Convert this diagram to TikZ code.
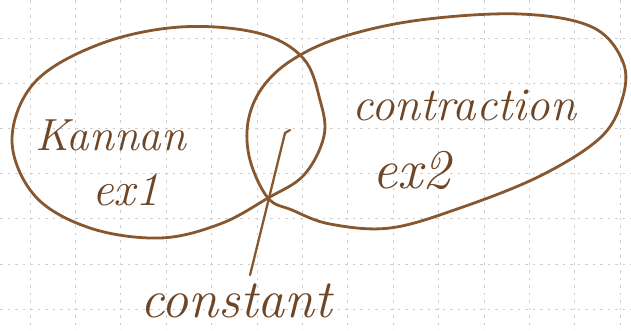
\documentclass[tikz,border=0pt]{standalone}
\usetikzlibrary{calc}
\definecolor{ink}{RGB}{135,88,48}
\definecolor{inkdark}{RGB}{110,70,38}
\definecolor{gridc}{RGB}{205,205,205}
\tikzset{
  loop/.style={draw=ink, line width=2.8pt, line cap=round, line join=round},
  hand/.style={text=inkdark, inner sep=0pt, anchor=base west, font=\itshape},
  papergrid/.style={draw=gridc, line width=0.8pt, dash pattern=on 2.5pt off 5pt},
  pointer/.style={draw=ink, line width=2.3pt, line cap=round}
}
\begin{document}
\begin{tikzpicture}[x=1pt,y=-1pt]
\useasboundingbox[fill=white] (0,0) rectangle (631,330);
% paper grid
\foreach \k in {0,...,13} {\draw[papergrid] (30+45.4*\k,0) -- (30+45.4*\k,330);}
\foreach \k in {0,...,6} {\draw[papergrid] (0,38+45.2*\k) -- (631,38+45.2*\k);}
% left loop
\draw[loop] plot[smooth cycle, tension=0.6] coordinates {
  (12,140) (35,82) (100,44) (180,27) (258,33) (303,58) (320,100)
  (324,136) (304,175) (268,198) (220,224) (160,238) (90,228) (35,196)};
% right loop
\draw[loop] plot[smooth cycle, tension=0.6] coordinates {
  (268,198) (250,160) (248,122) (262,88) (292,60) (342,37) (420,20)
  (520,14) (592,27) (623,62) (622,100) (600,138) (540,176) (460,208)
  (390,228) (330,224) (292,210)};
% labels
\node[hand, font=\itshape\fontsize{45}{45}\selectfont] (kannan) at (35,150) {Kannan};
\node[hand, font=\itshape\fontsize{48}{48}\selectfont] (exone) at (92,205) {ex1};
\node[hand, font=\itshape\fontsize{47}{47}\selectfont] (contraction) at (352,120) {contraction};
\node[hand, font=\itshape\fontsize{56}{56}\selectfont] (extwo) at (372,188) {ex2};
\node[hand, font=\itshape\fontsize{54}{54}\selectfont] (constant) at (140,317) {constant};
% pointer into the intersection
\coordinate (tip) at (285,133);
\draw[pointer] (constant.north) ++(14,-8) -- (tip);
\draw[pointer] (tip) -- ++(5,-3);
\end{tikzpicture}
\end{document}
